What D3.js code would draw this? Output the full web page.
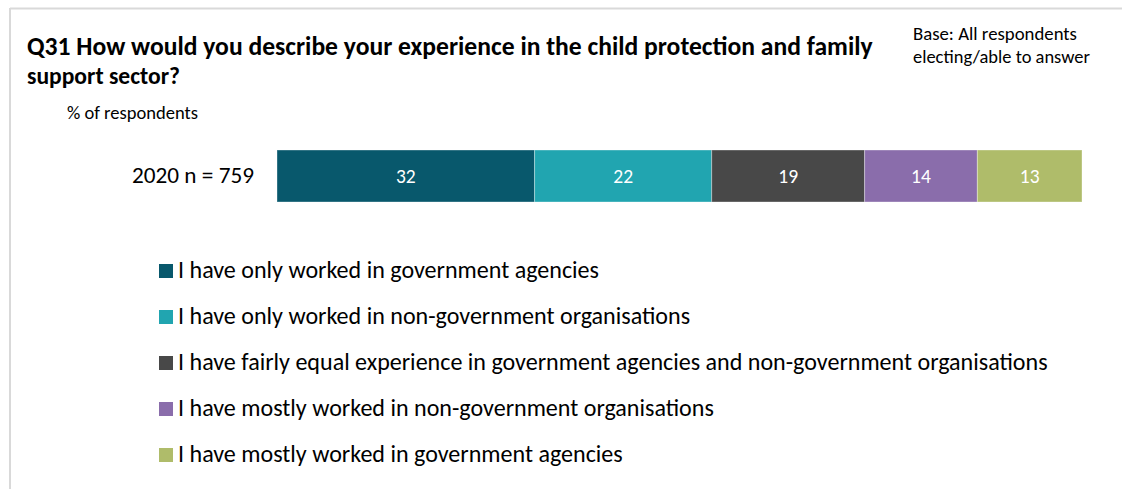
<!DOCTYPE html>
<html>
<head>
<meta charset="utf-8">
<script src="https://cdn.jsdelivr.net/npm/d3@7"></script>
<style>
  html, body { margin: 0; padding: 0; background: #fff; }
  svg { display: block; font-family: Carlito, Calibri, "Open Sans", "Noto Sans", sans-serif; }
</style>
</head>
<body>
<svg id="chart" width="1122" height="489"></svg>
<script>
// Survey response shares for Q31 (percent of respondents)
const rowLabel = "2020 n = 759";
const categories = [
  "I have only worked in government agencies",
  "I have only worked in non-government organisations",
  "I have fairly equal experience in government agencies and non-government organisations",
  "I have mostly worked in non-government organisations",
  "I have mostly worked in government agencies"
];
const values = [32, 22, 19, 14, 13];
const colors = ["#08586c", "#21a5b0", "#484848", "#8a6dab", "#afbc6a"];
const titleLines = [
  "Q31 How would you describe your experience in the child protection and family",
  "support sector?"
];
const baseLines = ["Base: All respondents", "electing/able to answer"];
const unitLabel = "% of respondents";

const svg = d3.select("#chart");

// Scale a text element's font size so it spans the given width
function fitWidth(sel, target) {
  sel.each(function () {
    const el = d3.select(this);
    const fs = parseFloat(el.attr("font-size"));
    const w = this.getComputedTextLength();
    if (w > 0) el.attr("font-size", (fs * target / w).toFixed(2));
  });
}

// Frame edges
svg.append("line").attr("x1", 10).attr("x2", 1122).attr("y1", 8.5).attr("y2", 8.5)
  .attr("stroke", "#d9d9d9").attr("stroke-width", 2);
svg.append("line").attr("x1", 10).attr("x2", 10).attr("y1", 8).attr("y2", 489)
  .attr("stroke", "#d9d9d9").attr("stroke-width", 2);

// Title
svg.append("text").attr("x", 27).attr("y", 55).attr("font-size", 21)
  .attr("font-weight", "bold").attr("fill", "#000").text(titleLines[0])
  .call(fitWidth, 846);
svg.append("text").attr("x", 27).attr("y", 84).attr("font-size", 21)
  .attr("font-weight", "bold").attr("fill", "#000").text(titleLines[1])
  .call(fitWidth, 153);

// Base note
svg.append("text").attr("x", 913).attr("y", 40).attr("font-size", 15)
  .attr("fill", "#000").text(baseLines[0]).call(fitWidth, 164);
svg.append("text").attr("x", 913).attr("y", 63).attr("font-size", 15)
  .attr("fill", "#000").text(baseLines[1]).call(fitWidth, 177);

// Unit label
svg.append("text").attr("x", 67).attr("y", 119).attr("font-size", 15)
  .attr("fill", "#000").text(unitLabel).call(fitWidth, 131);

// Stacked bar
const x = d3.scaleLinear().domain([0, d3.sum(values)]).range([277, 1082]);
const y = d3.scaleBand().domain([rowLabel]).range([150, 202]).padding(0);

const stackData = values.map((v, i) => ({
  v, c: colors[i], start: d3.sum(values.slice(0, i))
}));

svg.append("text").attr("x", 254).attr("y", y(rowLabel) + y.bandwidth() / 2 + 7)
  .attr("text-anchor", "end").attr("font-size", 19).attr("fill", "#000")
  .text(rowLabel).call(fitWidth, 122);

const seg = svg.append("g").selectAll("g").data(stackData).join("g");
seg.append("rect")
  .attr("x", d => x(d.start))
  .attr("y", y(rowLabel))
  .attr("width", d => x(d.start + d.v) - x(d.start))
  .attr("height", y.bandwidth())
  .attr("fill", d => d.c)
  .attr("stroke", "#ffffff").attr("stroke-opacity", 0.35).attr("stroke-width", 1);
seg.append("text")
  .attr("x", d => (x(d.start) + x(d.start + d.v)) / 2)
  .attr("y", y(rowLabel) + y.bandwidth() / 2 + 7)
  .attr("text-anchor", "middle").attr("font-size", 19.5).attr("fill", "#fff")
  .text(d => d.v);

// Legend
const legendY = d3.scalePoint().domain(categories).range([271, 455]);
const leg = svg.append("g").selectAll("g").data(categories).join("g")
  .attr("transform", d => `translate(0,${legendY(d)})`);
leg.append("rect").attr("x", 159).attr("y", -7).attr("width", 14).attr("height", 14)
  .attr("fill", (d, i) => colors[i]);
const legText = leg.append("text").attr("x", 178).attr("y", 7).attr("font-size", 20)
  .attr("fill", "#000").text(d => d);

// Common legend font size derived from the longest entry
const longest = legText.filter((d, i) => i === 2).node();
const ratio = 870 / longest.getComputedTextLength();
legText.attr("font-size", (20 * ratio).toFixed(2));
</script>
</body>
</html>
